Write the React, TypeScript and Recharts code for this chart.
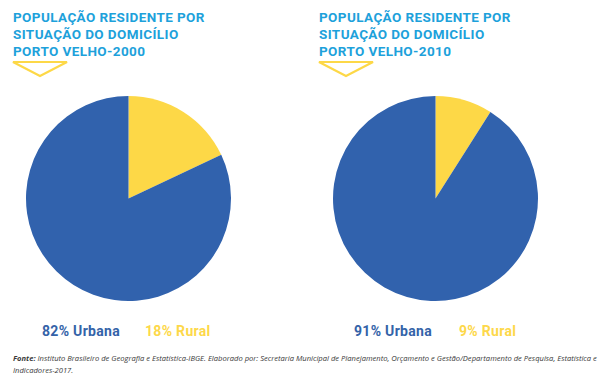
import React from "react";
import { PieChart, Pie, Cell } from "recharts";

const categories = ["Rural", "Urbana"];
const values2000 = [18, 82];
const values2010 = [9, 91];
const years = ["2000", "2010"];
const colors = ["#FDD847", "#3162AD"];

const data2000 = categories.map((name, i) => ({ name, value: values2000[i] }));
const data2010 = categories.map((name, i) => ({ name, value: values2010[i] }));

const titleStyle: React.CSSProperties = {
  position: "absolute",
  fontFamily: "Roboto, sans-serif",
  fontWeight: 700,
  fontSize: 13.5,
  letterSpacing: 0.4,
  lineHeight: "16.8px",
  color: "#1DA1DB",
  whiteSpace: "nowrap",
};

const legendStyle: React.CSSProperties = {
  position: "absolute",
  fontFamily: "Roboto, sans-serif",
  fontWeight: 700,
  fontSize: 14,
  letterSpacing: 0.3,
  lineHeight: "16px",
  whiteSpace: "nowrap",
  top: 323,
};

function Title({ left, year }: { left: number; year: string }) {
  return (
    <div style={{ ...titleStyle, left, top: 9 }}>
      POPULAÇÃO RESIDENTE POR
      <br />
      SITUAÇÃO DO DOMICÍLIO
      <br />
      PORTO VELHO-{year}
    </div>
  );
}

function Arrow({ left }: { left: number }) {
  return (
    <svg
      style={{ position: "absolute", left, top: 58 }}
      width={60}
      height={22}
    >
      <polygon
        points="2,4 56,4 29,18"
        fill="none"
        stroke="#FDD847"
        strokeWidth={2.2}
        strokeLinejoin="miter"
      />
    </svg>
  );
}

export default function App() {
  return (
    <div
      style={{
        position: "absolute",
        left: 0,
        top: 0,
        width: 601,
        height: 379,
        background: "#fff",
        overflow: "hidden",
      }}
    >
      <Title left={13} year={years[0]} />
      <Title left={319} year={years[1]} />
      <Arrow left={11} />
      <Arrow left={317} />
      <div style={{ position: "absolute", left: 0, top: 0 }}>
        <PieChart width={601} height={379} margin={{ top: 0, right: 0, bottom: 0, left: 0 }}>
          <Pie
            data={data2000}
            dataKey="value"
            nameKey="name"
            cx={128.5}
            cy={198.5}
            outerRadius={102.5}
            startAngle={90}
            endAngle={-270}
            stroke="none"
            isAnimationActive={false}
          >
            {data2000.map((d, i) => (
              <Cell key={d.name} fill={colors[i]} />
            ))}
          </Pie>
          <Pie
            data={data2010}
            dataKey="value"
            nameKey="name"
            cx={435.5}
            cy={198.5}
            outerRadius={102.5}
            startAngle={90}
            endAngle={-270}
            stroke="none"
            isAnimationActive={false}
          >
            {data2010.map((d, i) => (
              <Cell key={d.name} fill={colors[i]} />
            ))}
          </Pie>
        </PieChart>
      </div>
      <div style={{ ...legendStyle, left: 42, color: "#3463A8" }}>
        {values2000[1]}% {categories[1]}
      </div>
      <div style={{ ...legendStyle, left: 145, color: "#FDD84A" }}>
        {values2000[0]}% {categories[0]}
      </div>
      <div style={{ ...legendStyle, left: 354, color: "#3463A8" }}>
        {values2010[1]}% {categories[1]}
      </div>
      <div style={{ ...legendStyle, left: 459, color: "#FDD84A" }}>
        {values2010[0]}% {categories[0]}
      </div>
      <div
        style={{
          position: "absolute",
          left: 13,
          top: 352,
          fontFamily: "'Open Sans', sans-serif",
          fontStyle: "italic",
          fontSize: 7.6,
          lineHeight: "12px",
          color: "#3a3a3a",
          whiteSpace: "nowrap",
        }}
      >
        <b>Fonte:</b> Instituto Brasileiro de Geografia e Estatística-IBGE. Elaborado por: Secretaria Municipal de Planejamento, Orçamento e Gestão/Departamento de Pesquisa, Estatística e
        <br />
        Indicadores-2017.
      </div>
    </div>
  );
}
